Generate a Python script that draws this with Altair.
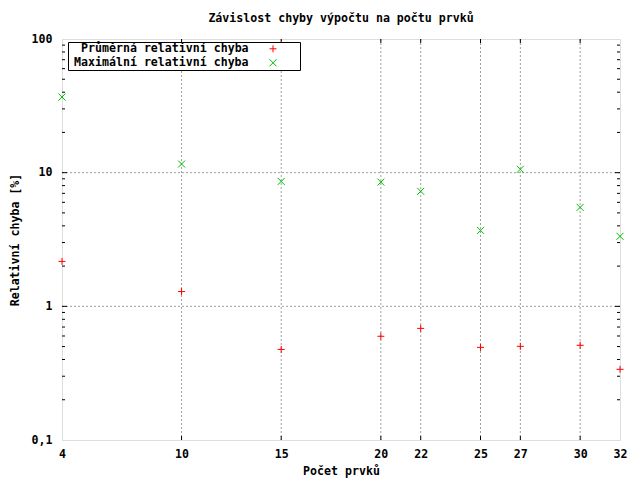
import altair as alt
import pandas as pd

# ---- data ----
n_values = [4, 10, 15, 20, 22, 25, 27, 30, 32]
avg_err = [2.17, 1.29, 0.476, 0.597, 0.684, 0.493, 0.502, 0.511, 0.338]
max_err = [36.8, 11.6, 8.6, 8.5, 7.25, 3.70, 10.6, 5.50, 3.34]
series = ["Průměrná relativní chyba", "Maximální relativní chyba"]

x_ticks = [4, 10, 15, 20, 22, 25, 27, 30, 32]
x_grid = [10, 15, 20, 22, 25, 27, 30]
y_ticks = [0.1, 1, 10, 100]
y_grid = [1, 10]
y_minor = [0.2, 0.3, 0.4, 0.5, 0.6, 0.7, 0.8, 0.9,
           2, 3, 4, 5, 6, 7, 8, 9,
           20, 30, 40, 50, 60, 70, 80, 90]

W, H = 558, 401
FONT = "DejaVu Sans Mono"
FS = 11.6

df = pd.DataFrame({
    "n": n_values + n_values,
    "err": avg_err + max_err,
    "series": [series[0]] * len(n_values) + [series[1]] * len(n_values),
})

xs = alt.Scale(domain=[4, 32], nice=False, zero=False)
ys = alt.Scale(type="log", domain=[0.1, 100], nice=False)

x_axis = alt.Axis(
    values=x_ticks, grid=False, ticks=False, tickSize=0, domain=False,
    labelPadding=8, labelFont=FONT, labelFontSize=FS, labelFontWeight="bold",
    labelColor="black", labelFlush=False,
    title="Počet prvků", titleFont=FONT, titleFontSize=FS, titleFontWeight="bold",
    titleColor="black", titleY=31, titleBaseline="middle")
y_axis = alt.Axis(
    values=y_ticks, grid=False, ticks=False, tickSize=0, domain=False,
    labelPadding=10, labelFont=FONT, labelFontSize=FS, labelFontWeight="bold",
    labelColor="black", labelFlush=False,
    labelExpr="replace(datum.label, '.', ',')",
    title="Relativní chyba [%]", titleFont=FONT, titleFontSize=FS, titleFontWeight="bold",
    titleColor="black", titleX=-47, titleY=H / 2, titleAngle=270, titleBaseline="middle")

# symbol outlines (the trailing move-to only widens the legend frame, it draws nothing)
plus_path = "M-1,0H1M0,-1V1M6.6,0"
x_path = "M-1,-1L1,1M-1,1L1,-1M6.6,0"

leg = alt.Legend(
    title=None, orient="none", legendX=6, legendY=3,
    strokeColor="black", fillColor="white", padding=1,
    labelFont=FONT, labelFontSize=FS, labelFontWeight="bold", labelColor="black",
    labelAlign="right", labelOffset={"expr": "-30.2"}, labelLimit=300, symbolOffset=198.2,
    rowPadding=1, symbolSize=49, symbolStrokeWidth=1,
)

points = alt.Chart(df).mark_point(filled=False, strokeWidth=1, size=49, opacity=1).encode(
    x=alt.X("n:Q", scale=xs, axis=x_axis),
    y=alt.Y("err:Q", scale=ys, axis=y_axis),
    color=alt.Color("series:N", scale=alt.Scale(domain=series, range=["#ff0000", "#00c000"]), legend=leg),
    shape=alt.Shape("series:N", scale=alt.Scale(domain=series, range=[plus_path, x_path]), legend=leg),
)

grid_x = alt.Chart(pd.DataFrame({"v": x_grid})).mark_rule(
    color="#a0a0a0", strokeDash=[2, 2], strokeWidth=1).encode(
    x=alt.X("v:Q", scale=xs, axis=x_axis))
grid_y = alt.Chart(pd.DataFrame({"v": y_grid})).mark_rule(
    color="#a0a0a0", strokeDash=[2, 2], strokeWidth=1).encode(
    y=alt.Y("v:Q", scale=ys, axis=y_axis))

maj = pd.DataFrame({"v": y_grid})
mnr = pd.DataFrame({"v": y_minor})
xmaj = pd.DataFrame({"v": x_grid})
tick_l_major = alt.Chart(maj).mark_rule(color="black").encode(
    y=alt.Y("v:Q", scale=ys, axis=y_axis), x=alt.value(0), x2=alt.value(5))
tick_r_major = alt.Chart(maj).mark_rule(color="black").encode(
    y=alt.Y("v:Q", scale=ys, axis=y_axis), x=alt.value(W - 5), x2=alt.value(W))
tick_l_minor = alt.Chart(mnr).mark_rule(color="black").encode(
    y=alt.Y("v:Q", scale=ys, axis=y_axis), x=alt.value(0), x2=alt.value(3))
tick_r_minor = alt.Chart(mnr).mark_rule(color="black").encode(
    y=alt.Y("v:Q", scale=ys, axis=y_axis), x=alt.value(W - 3), x2=alt.value(W))
tick_b = alt.Chart(xmaj).mark_rule(color="black").encode(
    x=alt.X("v:Q", scale=xs, axis=x_axis), y=alt.value(H - 4), y2=alt.value(H))
tick_t = alt.Chart(xmaj).mark_rule(color="black").encode(
    x=alt.X("v:Q", scale=xs, axis=x_axis), y=alt.value(0), y2=alt.value(4))

chart = alt.layer(
    grid_x, grid_y, tick_l_major, tick_r_major, tick_l_minor, tick_r_minor,
    tick_b, tick_t, points
).properties(
    width=W, height=H,
    title=alt.TitleParams("Závislost chyby výpočtu na počtu prvků", font=FONT, fontSize=FS,
                          fontWeight="bold", color="black", anchor="middle", offset=8),
    autosize=alt.AutoSizeParams(type="none"),
    padding={"left": 54, "top": 31, "right": 12, "bottom": 38},
).configure_view(
    stroke="black", strokeWidth=1
).configure(background="white")

chart.save("out.html", embed_options={"renderer": "svg", "actions": False})
